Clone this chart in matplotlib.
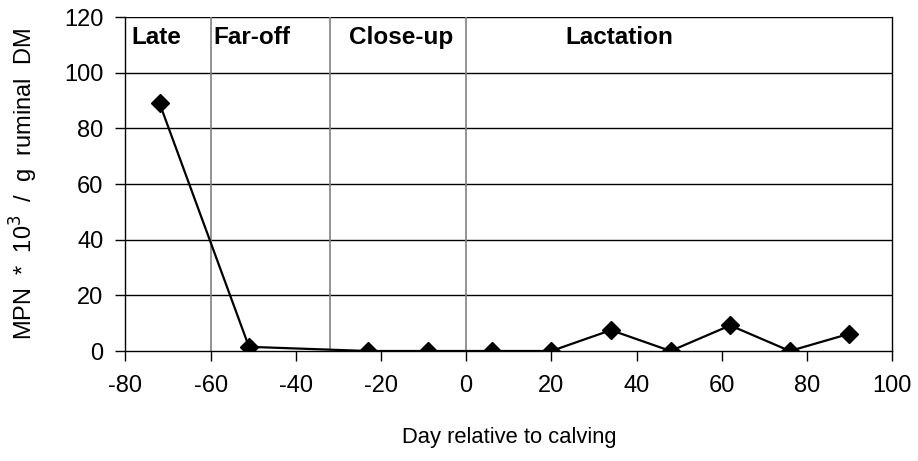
import numpy as np
import matplotlib
matplotlib.use("Agg")
import matplotlib.pyplot as plt

plt.rcParams['font.family'] = ['Liberation Sans', 'DejaVu Sans']
plt.rcParams['axes.unicode_minus'] = False

# days relative to calving and MPN counts
days = [-72, -51, -23, -9, 6, 20, 34, 48, 62, 76, 90]
mpn = [89, 1.5, 0, 0, 0, 0, 7.5, 0, 9.2, 0, 6.2]

# period boundaries and labels
bounds = [-60, -32, 0]
periods = ["Late", "Far-off", "Close-up", "Lactation"]
period_x = [-78.6, -59.3, -27.5, 23.2]

fig = plt.figure(figsize=(9.18, 4.61), dpi=100)
ax = fig.add_axes([0.1367, 0.2386, 0.835, 0.7245])

for y in range(20, 121, 20):
    ax.axhline(y, color="black", lw=1, zorder=1)
for b in bounds:
    ax.axvline(b, color="#808080", lw=1.2, zorder=1)

ax.plot(days, mpn, color="black", lw=1.6, marker="D", ms=9.5, zorder=3)

for name, px in zip(periods, period_x):
    ax.text(px, 112.6, name, fontsize=17.5, fontweight="bold", ha="left", va="center")

ax.set_xlim(-80, 100)
ax.set_ylim(0, 120)
ax.set_xticks(range(-80, 101, 20))
ax.set_yticks(range(0, 121, 20))
ax.tick_params(direction="out", length=7, width=1, labelsize=17)
ax.tick_params(axis="y", pad=9)
ax.tick_params(axis="x", pad=10)
ax.spines["top"].set_visible(False)
for s in ["left", "right", "bottom"]:
    ax.spines[s].set_linewidth(1)

ax.set_xlabel("Day relative to calving", fontsize=15.8, labelpad=22)
ax.set_ylabel("MPN  *  10$^3$  /  g  ruminal  DM", fontsize=17, labelpad=17)

fig.savefig("out.png", dpi=100)
